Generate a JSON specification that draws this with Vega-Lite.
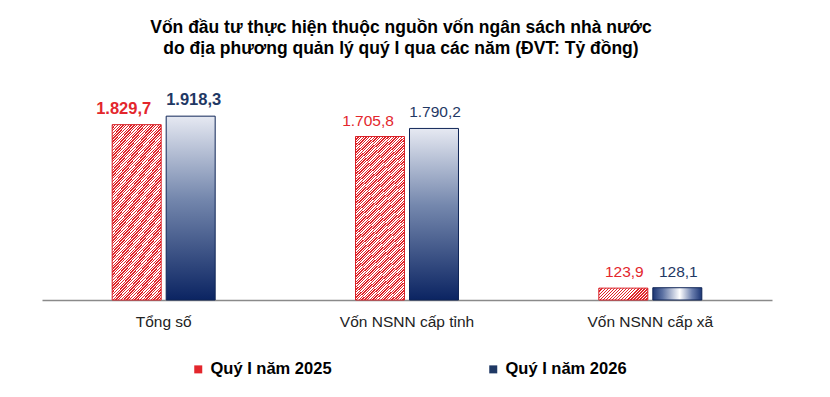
{
  "$schema": "https://vega.github.io/schema/vega-lite/v6.json",
  "width": 730,
  "height": 230,
  "autosize": "none",
  "padding": {"left": 42, "top": 70, "right": 58, "bottom": 97},
  "background": "white",
  "config": {
    "view": {"stroke": null},
    "font": "Liberation Sans",
    "locale": {"number": {"decimal": ",", "thousands": ".", "grouping": [3], "currency": ["", ""]}}
  },
  "title": {
    "text": "Vốn đầu tư thực hiện thuộc nguồn vốn ngân sách nhà nước",
    "subtitle": "do địa phương quản lý quý I qua các năm (ĐVT: Tỷ đồng)",
    "anchor": "middle",
    "frame": "group",
    "font": "Liberation Sans",
    "fontSize": 17.5,
    "fontWeight": "bold",
    "color": "#000000",
    "subtitleFont": "Liberation Sans",
    "subtitleFontSize": 17.5,
    "subtitleFontWeight": "bold",
    "subtitleColor": "#000000",
    "subtitlePadding": 3,
    "offset": 13,
    "dx": -6
  },
  "data": {
    "values": [
      {"cat": "Tổng số", "year": "Quý I năm 2025", "value": 1829.7},
      {"cat": "Tổng số", "year": "Quý I năm 2026", "value": 1918.3},
      {"cat": "Vốn NSNN cấp tỉnh", "year": "Quý I năm 2025", "value": 1705.8},
      {"cat": "Vốn NSNN cấp tỉnh", "year": "Quý I năm 2026", "value": 1790.2},
      {"cat": "Vốn NSNN cấp xã", "year": "Quý I năm 2025", "value": 123.9},
      {"cat": "Vốn NSNN cấp xã", "year": "Quý I năm 2026", "value": 128.1}
    ]
  },
  "encoding": {
    "x": {
      "field": "cat", "type": "nominal",
      "sort": ["Tổng số", "Vốn NSNN cấp tỉnh", "Vốn NSNN cấp xã"],
      "scale": {"paddingInner": 0.5767, "paddingOuter": 0.2884},
      "axis": {"title": null, "ticks": false, "labelAngle": 0, "domainColor": "#8a8a8a", "domainWidth": 1.5, "labelFont": "Liberation Sans", "labelFontSize": 15.5, "labelColor": "#222222", "labelPadding": 14}
    },
    "xOffset": {"field": "year", "type": "nominal", "sort": ["Quý I năm 2025", "Quý I năm 2026"], "scale": {"paddingInner": 0.0926, "paddingOuter": 0}},
    "y": {"field": "value", "type": "quantitative", "scale": {"domain": [0, 2400]}, "axis": null}
  },
  "layer": [
    {
      "transform": [{"filter": "datum.year == 'Quý I năm 2025' && datum.cat != 'Vốn NSNN cấp xã'"}],
      "mark": {"type": "bar", "stroke": "#d81f26", "strokeWidth": 1, "fill": {"gradient": "linear", "x1": 0, "y1": 0, "x2": 0.345, "y2": 1.19, "stops": [
{"offset":0,"color":"#e02329"},{"offset":0.00625,"color":"#e02329"},{"offset":0.00625,"color":"#fff"},{"offset":0.0125,"color":"#fff"},
{"offset":0.0125,"color":"#e02329"},{"offset":0.01875,"color":"#e02329"},{"offset":0.01875,"color":"#fff"},{"offset":0.025,"color":"#fff"},
{"offset":0.025,"color":"#e02329"},{"offset":0.03125,"color":"#e02329"},{"offset":0.03125,"color":"#fff"},{"offset":0.0375,"color":"#fff"},
{"offset":0.0375,"color":"#e02329"},{"offset":0.04375,"color":"#e02329"},{"offset":0.04375,"color":"#fff"},{"offset":0.05,"color":"#fff"},
{"offset":0.05,"color":"#e02329"},{"offset":0.05625,"color":"#e02329"},{"offset":0.05625,"color":"#fff"},{"offset":0.0625,"color":"#fff"},
{"offset":0.0625,"color":"#e02329"},{"offset":0.06875,"color":"#e02329"},{"offset":0.06875,"color":"#fff"},{"offset":0.075,"color":"#fff"},
{"offset":0.075,"color":"#e02329"},{"offset":0.08125,"color":"#e02329"},{"offset":0.08125,"color":"#fff"},{"offset":0.0875,"color":"#fff"},
{"offset":0.0875,"color":"#e02329"},{"offset":0.09375,"color":"#e02329"},{"offset":0.09375,"color":"#fff"},{"offset":0.1,"color":"#fff"},
{"offset":0.1,"color":"#e02329"},{"offset":0.10625,"color":"#e02329"},{"offset":0.10625,"color":"#fff"},{"offset":0.1125,"color":"#fff"},
{"offset":0.1125,"color":"#e02329"},{"offset":0.11875,"color":"#e02329"},{"offset":0.11875,"color":"#fff"},{"offset":0.125,"color":"#fff"},
{"offset":0.125,"color":"#e02329"},{"offset":0.13125,"color":"#e02329"},{"offset":0.13125,"color":"#fff"},{"offset":0.1375,"color":"#fff"},
{"offset":0.1375,"color":"#e02329"},{"offset":0.14375,"color":"#e02329"},{"offset":0.14375,"color":"#fff"},{"offset":0.15,"color":"#fff"},
{"offset":0.15,"color":"#e02329"},{"offset":0.15625,"color":"#e02329"},{"offset":0.15625,"color":"#fff"},{"offset":0.1625,"color":"#fff"},
{"offset":0.1625,"color":"#e02329"},{"offset":0.16875,"color":"#e02329"},{"offset":0.16875,"color":"#fff"},{"offset":0.175,"color":"#fff"},
{"offset":0.175,"color":"#e02329"},{"offset":0.18125,"color":"#e02329"},{"offset":0.18125,"color":"#fff"},{"offset":0.1875,"color":"#fff"},
{"offset":0.1875,"color":"#e02329"},{"offset":0.19375,"color":"#e02329"},{"offset":0.19375,"color":"#fff"},{"offset":0.2,"color":"#fff"},
{"offset":0.2,"color":"#e02329"},{"offset":0.20625,"color":"#e02329"},{"offset":0.20625,"color":"#fff"},{"offset":0.2125,"color":"#fff"},
{"offset":0.2125,"color":"#e02329"},{"offset":0.21875,"color":"#e02329"},{"offset":0.21875,"color":"#fff"},{"offset":0.225,"color":"#fff"},
{"offset":0.225,"color":"#e02329"},{"offset":0.23125,"color":"#e02329"},{"offset":0.23125,"color":"#fff"},{"offset":0.2375,"color":"#fff"},
{"offset":0.2375,"color":"#e02329"},{"offset":0.24375,"color":"#e02329"},{"offset":0.24375,"color":"#fff"},{"offset":0.25,"color":"#fff"},
{"offset":0.25,"color":"#e02329"},{"offset":0.25625,"color":"#e02329"},{"offset":0.25625,"color":"#fff"},{"offset":0.2625,"color":"#fff"},
{"offset":0.2625,"color":"#e02329"},{"offset":0.26875,"color":"#e02329"},{"offset":0.26875,"color":"#fff"},{"offset":0.275,"color":"#fff"},
{"offset":0.275,"color":"#e02329"},{"offset":0.28125,"color":"#e02329"},{"offset":0.28125,"color":"#fff"},{"offset":0.2875,"color":"#fff"},
{"offset":0.2875,"color":"#e02329"},{"offset":0.29375,"color":"#e02329"},{"offset":0.29375,"color":"#fff"},{"offset":0.3,"color":"#fff"},
{"offset":0.3,"color":"#e02329"},{"offset":0.30625,"color":"#e02329"},{"offset":0.30625,"color":"#fff"},{"offset":0.3125,"color":"#fff"},
{"offset":0.3125,"color":"#e02329"},{"offset":0.31875,"color":"#e02329"},{"offset":0.31875,"color":"#fff"},{"offset":0.325,"color":"#fff"},
{"offset":0.325,"color":"#e02329"},{"offset":0.33125,"color":"#e02329"},{"offset":0.33125,"color":"#fff"},{"offset":0.3375,"color":"#fff"},
{"offset":0.3375,"color":"#e02329"},{"offset":0.34375,"color":"#e02329"},{"offset":0.34375,"color":"#fff"},{"offset":0.35,"color":"#fff"},
{"offset":0.35,"color":"#e02329"},{"offset":0.35625,"color":"#e02329"},{"offset":0.35625,"color":"#fff"},{"offset":0.3625,"color":"#fff"},
{"offset":0.3625,"color":"#e02329"},{"offset":0.36875,"color":"#e02329"},{"offset":0.36875,"color":"#fff"},{"offset":0.375,"color":"#fff"},
{"offset":0.375,"color":"#e02329"},{"offset":0.38125,"color":"#e02329"},{"offset":0.38125,"color":"#fff"},{"offset":0.3875,"color":"#fff"},
{"offset":0.3875,"color":"#e02329"},{"offset":0.39375,"color":"#e02329"},{"offset":0.39375,"color":"#fff"},{"offset":0.4,"color":"#fff"},
{"offset":0.4,"color":"#e02329"},{"offset":0.40625,"color":"#e02329"},{"offset":0.40625,"color":"#fff"},{"offset":0.4125,"color":"#fff"},
{"offset":0.4125,"color":"#e02329"},{"offset":0.41875,"color":"#e02329"},{"offset":0.41875,"color":"#fff"},{"offset":0.425,"color":"#fff"},
{"offset":0.425,"color":"#e02329"},{"offset":0.43125,"color":"#e02329"},{"offset":0.43125,"color":"#fff"},{"offset":0.4375,"color":"#fff"},
{"offset":0.4375,"color":"#e02329"},{"offset":0.44375,"color":"#e02329"},{"offset":0.44375,"color":"#fff"},{"offset":0.45,"color":"#fff"},
{"offset":0.45,"color":"#e02329"},{"offset":0.45625,"color":"#e02329"},{"offset":0.45625,"color":"#fff"},{"offset":0.4625,"color":"#fff"},
{"offset":0.4625,"color":"#e02329"},{"offset":0.46875,"color":"#e02329"},{"offset":0.46875,"color":"#fff"},{"offset":0.475,"color":"#fff"},
{"offset":0.475,"color":"#e02329"},{"offset":0.48125,"color":"#e02329"},{"offset":0.48125,"color":"#fff"},{"offset":0.4875,"color":"#fff"},
{"offset":0.4875,"color":"#e02329"},{"offset":0.49375,"color":"#e02329"},{"offset":0.49375,"color":"#fff"},{"offset":0.5,"color":"#fff"},
{"offset":0.5,"color":"#e02329"},{"offset":0.50625,"color":"#e02329"},{"offset":0.50625,"color":"#fff"},{"offset":0.5125,"color":"#fff"},
{"offset":0.5125,"color":"#e02329"},{"offset":0.51875,"color":"#e02329"},{"offset":0.51875,"color":"#fff"},{"offset":0.525,"color":"#fff"},
{"offset":0.525,"color":"#e02329"},{"offset":0.53125,"color":"#e02329"},{"offset":0.53125,"color":"#fff"},{"offset":0.5375,"color":"#fff"},
{"offset":0.5375,"color":"#e02329"},{"offset":0.54375,"color":"#e02329"},{"offset":0.54375,"color":"#fff"},{"offset":0.55,"color":"#fff"},
{"offset":0.55,"color":"#e02329"},{"offset":0.55625,"color":"#e02329"},{"offset":0.55625,"color":"#fff"},{"offset":0.5625,"color":"#fff"},
{"offset":0.5625,"color":"#e02329"},{"offset":0.56875,"color":"#e02329"},{"offset":0.56875,"color":"#fff"},{"offset":0.575,"color":"#fff"},
{"offset":0.575,"color":"#e02329"},{"offset":0.58125,"color":"#e02329"},{"offset":0.58125,"color":"#fff"},{"offset":0.5875,"color":"#fff"},
{"offset":0.5875,"color":"#e02329"},{"offset":0.59375,"color":"#e02329"},{"offset":0.59375,"color":"#fff"},{"offset":0.6,"color":"#fff"},
{"offset":0.6,"color":"#e02329"},{"offset":0.60625,"color":"#e02329"},{"offset":0.60625,"color":"#fff"},{"offset":0.6125,"color":"#fff"},
{"offset":0.6125,"color":"#e02329"},{"offset":0.61875,"color":"#e02329"},{"offset":0.61875,"color":"#fff"},{"offset":0.625,"color":"#fff"},
{"offset":0.625,"color":"#e02329"},{"offset":0.63125,"color":"#e02329"},{"offset":0.63125,"color":"#fff"},{"offset":0.6375,"color":"#fff"},
{"offset":0.6375,"color":"#e02329"},{"offset":0.64375,"color":"#e02329"},{"offset":0.64375,"color":"#fff"},{"offset":0.65,"color":"#fff"},
{"offset":0.65,"color":"#e02329"},{"offset":0.65625,"color":"#e02329"},{"offset":0.65625,"color":"#fff"},{"offset":0.6625,"color":"#fff"},
{"offset":0.6625,"color":"#e02329"},{"offset":0.66875,"color":"#e02329"},{"offset":0.66875,"color":"#fff"},{"offset":0.675,"color":"#fff"},
{"offset":0.675,"color":"#e02329"},{"offset":0.68125,"color":"#e02329"},{"offset":0.68125,"color":"#fff"},{"offset":0.6875,"color":"#fff"},
{"offset":0.6875,"color":"#e02329"},{"offset":0.69375,"color":"#e02329"},{"offset":0.69375,"color":"#fff"},{"offset":0.7,"color":"#fff"},
{"offset":0.7,"color":"#e02329"},{"offset":0.70625,"color":"#e02329"},{"offset":0.70625,"color":"#fff"},{"offset":0.7125,"color":"#fff"},
{"offset":0.7125,"color":"#e02329"},{"offset":0.71875,"color":"#e02329"},{"offset":0.71875,"color":"#fff"},{"offset":0.725,"color":"#fff"},
{"offset":0.725,"color":"#e02329"},{"offset":0.73125,"color":"#e02329"},{"offset":0.73125,"color":"#fff"},{"offset":0.7375,"color":"#fff"},
{"offset":0.7375,"color":"#e02329"},{"offset":0.74375,"color":"#e02329"},{"offset":0.74375,"color":"#fff"},{"offset":0.75,"color":"#fff"},
{"offset":0.75,"color":"#e02329"},{"offset":0.75625,"color":"#e02329"},{"offset":0.75625,"color":"#fff"},{"offset":0.7625,"color":"#fff"},
{"offset":0.7625,"color":"#e02329"},{"offset":0.76875,"color":"#e02329"},{"offset":0.76875,"color":"#fff"},{"offset":0.775,"color":"#fff"},
{"offset":0.775,"color":"#e02329"},{"offset":0.78125,"color":"#e02329"},{"offset":0.78125,"color":"#fff"},{"offset":0.7875,"color":"#fff"},
{"offset":0.7875,"color":"#e02329"},{"offset":0.79375,"color":"#e02329"},{"offset":0.79375,"color":"#fff"},{"offset":0.8,"color":"#fff"},
{"offset":0.8,"color":"#e02329"},{"offset":0.80625,"color":"#e02329"},{"offset":0.80625,"color":"#fff"},{"offset":0.8125,"color":"#fff"},
{"offset":0.8125,"color":"#e02329"},{"offset":0.81875,"color":"#e02329"},{"offset":0.81875,"color":"#fff"},{"offset":0.825,"color":"#fff"},
{"offset":0.825,"color":"#e02329"},{"offset":0.83125,"color":"#e02329"},{"offset":0.83125,"color":"#fff"},{"offset":0.8375,"color":"#fff"},
{"offset":0.8375,"color":"#e02329"},{"offset":0.84375,"color":"#e02329"},{"offset":0.84375,"color":"#fff"},{"offset":0.85,"color":"#fff"},
{"offset":0.85,"color":"#e02329"},{"offset":0.85625,"color":"#e02329"},{"offset":0.85625,"color":"#fff"},{"offset":0.8625,"color":"#fff"},
{"offset":0.8625,"color":"#e02329"},{"offset":0.86875,"color":"#e02329"},{"offset":0.86875,"color":"#fff"},{"offset":0.875,"color":"#fff"},
{"offset":0.875,"color":"#e02329"},{"offset":0.88125,"color":"#e02329"},{"offset":0.88125,"color":"#fff"},{"offset":0.8875,"color":"#fff"},
{"offset":0.8875,"color":"#e02329"},{"offset":0.89375,"color":"#e02329"},{"offset":0.89375,"color":"#fff"},{"offset":0.9,"color":"#fff"},
{"offset":0.9,"color":"#e02329"},{"offset":0.90625,"color":"#e02329"},{"offset":0.90625,"color":"#fff"},{"offset":0.9125,"color":"#fff"},
{"offset":0.9125,"color":"#e02329"},{"offset":0.91875,"color":"#e02329"},{"offset":0.91875,"color":"#fff"},{"offset":0.925,"color":"#fff"},
{"offset":0.925,"color":"#e02329"},{"offset":0.93125,"color":"#e02329"},{"offset":0.93125,"color":"#fff"},{"offset":0.9375,"color":"#fff"},
{"offset":0.9375,"color":"#e02329"},{"offset":0.94375,"color":"#e02329"},{"offset":0.94375,"color":"#fff"},{"offset":0.95,"color":"#fff"},
{"offset":0.95,"color":"#e02329"},{"offset":0.95625,"color":"#e02329"},{"offset":0.95625,"color":"#fff"},{"offset":0.9625,"color":"#fff"},
{"offset":0.9625,"color":"#e02329"},{"offset":0.96875,"color":"#e02329"},{"offset":0.96875,"color":"#fff"},{"offset":0.975,"color":"#fff"},
{"offset":0.975,"color":"#e02329"},{"offset":0.98125,"color":"#e02329"},{"offset":0.98125,"color":"#fff"},{"offset":0.9875,"color":"#fff"},
{"offset":0.9875,"color":"#e02329"},{"offset":0.99375,"color":"#e02329"},{"offset":0.99375,"color":"#fff"},{"offset":1,"color":"#fff"}
      ]}}
    },
    {
      "transform": [{"filter": "datum.year == 'Quý I năm 2025' && datum.cat == 'Vốn NSNN cấp xã'"}],
      "mark": {"type": "bar", "stroke": "#d81f26", "strokeWidth": 1, "fill": {"gradient": "linear", "x1": 0, "y1": 0, "x2": 1.1734, "y2": 0.2843, "stops": [
{"offset":0,"color":"#e02329"},{"offset":0.025,"color":"#e02329"},{"offset":0.025,"color":"#fff"},{"offset":0.05,"color":"#fff"},
{"offset":0.05,"color":"#e02329"},{"offset":0.075,"color":"#e02329"},{"offset":0.075,"color":"#fff"},{"offset":0.1,"color":"#fff"},
{"offset":0.1,"color":"#e02329"},{"offset":0.125,"color":"#e02329"},{"offset":0.125,"color":"#fff"},{"offset":0.15,"color":"#fff"},
{"offset":0.15,"color":"#e02329"},{"offset":0.175,"color":"#e02329"},{"offset":0.175,"color":"#fff"},{"offset":0.2,"color":"#fff"},
{"offset":0.2,"color":"#e02329"},{"offset":0.225,"color":"#e02329"},{"offset":0.225,"color":"#fff"},{"offset":0.25,"color":"#fff"},
{"offset":0.25,"color":"#e02329"},{"offset":0.275,"color":"#e02329"},{"offset":0.275,"color":"#fff"},{"offset":0.3,"color":"#fff"},
{"offset":0.3,"color":"#e02329"},{"offset":0.325,"color":"#e02329"},{"offset":0.325,"color":"#fff"},{"offset":0.35,"color":"#fff"},
{"offset":0.35,"color":"#e02329"},{"offset":0.375,"color":"#e02329"},{"offset":0.375,"color":"#fff"},{"offset":0.4,"color":"#fff"},
{"offset":0.4,"color":"#e02329"},{"offset":0.425,"color":"#e02329"},{"offset":0.425,"color":"#fff"},{"offset":0.45,"color":"#fff"},
{"offset":0.45,"color":"#e02329"},{"offset":0.475,"color":"#e02329"},{"offset":0.475,"color":"#fff"},{"offset":0.5,"color":"#fff"},
{"offset":0.5,"color":"#e02329"},{"offset":0.525,"color":"#e02329"},{"offset":0.525,"color":"#fff"},{"offset":0.55,"color":"#fff"},
{"offset":0.55,"color":"#e02329"},{"offset":0.575,"color":"#e02329"},{"offset":0.575,"color":"#fff"},{"offset":0.6,"color":"#fff"},
{"offset":0.6,"color":"#e02329"},{"offset":0.625,"color":"#e02329"},{"offset":0.625,"color":"#fff"},{"offset":0.65,"color":"#fff"},
{"offset":0.65,"color":"#e02329"},{"offset":0.675,"color":"#e02329"},{"offset":0.675,"color":"#fff"},{"offset":0.7,"color":"#fff"},
{"offset":0.7,"color":"#e02329"},{"offset":0.725,"color":"#e02329"},{"offset":0.725,"color":"#fff"},{"offset":0.75,"color":"#fff"},
{"offset":0.75,"color":"#e02329"},{"offset":0.775,"color":"#e02329"},{"offset":0.775,"color":"#fff"},{"offset":0.8,"color":"#fff"},
{"offset":0.8,"color":"#e02329"},{"offset":0.825,"color":"#e02329"},{"offset":0.825,"color":"#fff"},{"offset":0.85,"color":"#fff"},
{"offset":0.85,"color":"#e02329"},{"offset":0.875,"color":"#e02329"},{"offset":0.875,"color":"#fff"},{"offset":0.9,"color":"#fff"},
{"offset":0.9,"color":"#e02329"},{"offset":0.925,"color":"#e02329"},{"offset":0.925,"color":"#fff"},{"offset":0.95,"color":"#fff"},
{"offset":0.95,"color":"#e02329"},{"offset":0.975,"color":"#e02329"},{"offset":0.975,"color":"#fff"},{"offset":1,"color":"#fff"}
      ]}}
    },
    {
      "transform": [{"filter": "datum.year == 'Quý I năm 2026' && datum.cat != 'Vốn NSNN cấp xã'"}],
      "mark": {"type": "bar", "stroke": "#0f2557", "strokeWidth": 1, "fill": {"gradient": "linear", "x1": 0, "y1": 0, "x2": 0, "y2": 1, "stops": [
        {"offset": 0, "color": "#e6e9f2"},
        {"offset": 0.45, "color": "#7487ad"},
        {"offset": 1, "color": "#0b2462"}
      ]}}
    },
    {
      "transform": [{"filter": "datum.year == 'Quý I năm 2026' && datum.cat == 'Vốn NSNN cấp xã'"}],
      "mark": {"type": "bar", "stroke": "#0f2557", "strokeWidth": 1, "fill": {"gradient": "linear", "x1": 0, "y1": 0, "x2": 1, "y2": 0, "stops": [
        {"offset": 0, "color": "#1b3574"},
        {"offset": 0.2, "color": "#5d72a3"},
        {"offset": 0.55, "color": "#ffffff"},
        {"offset": 0.8, "color": "#6b7fae"},
        {"offset": 1, "color": "#1b3574"}
      ]}}
    },
    {
      "transform": [{"filter": "datum.cat == 'Tổng số' && datum.year == 'Quý I năm 2025'"}],
      "mark": {"type": "text", "baseline": "bottom", "dy": -8, "dx": -13, "font": "Liberation Sans", "fontSize": 16.5, "fontWeight": "bold"},
      "encoding": {
        "text": {"field": "value", "type": "quantitative", "format": ",.1f"},
        "color": {
          "field": "year", "type": "nominal",
          "scale": {"domain": ["Quý I năm 2025", "Quý I năm 2026"], "range": ["#e3262c", "#1f3864"]},
          "legend": {
            "title": null, "orient": "none", "legendX": 148, "legendY": 291, "direction": "horizontal",
            "symbolType": "square", "symbolSize": 64, "symbolStrokeWidth": 1,
            "labelFont": "Liberation Sans", "labelFontSize": 16.5, "labelFontWeight": "bold", "labelColor": "#000000",
            "labelOffset": 4, "columnPadding": 153, "labelLimit": 300
          }
        }
      }
    },
    {
      "transform": [{"filter": "datum.cat == 'Tổng số' && datum.year == 'Quý I năm 2026'"}],
      "mark": {"type": "text", "baseline": "bottom", "dy": -8, "dx": 3, "font": "Liberation Sans", "fontSize": 16.5, "fontWeight": "bold"},
      "encoding": {
        "text": {"field": "value", "type": "quantitative", "format": ",.1f"},
        "color": {"field": "year", "type": "nominal"}
      }
    },
    {
      "transform": [{"filter": "datum.cat == 'Vốn NSNN cấp tỉnh' && datum.year == 'Quý I năm 2025'"}],
      "mark": {"type": "text", "baseline": "bottom", "dy": -8, "dx": -12, "font": "Liberation Sans", "fontSize": 15.5},
      "encoding": {
        "text": {"field": "value", "type": "quantitative", "format": ",.1f"},
        "color": {"field": "year", "type": "nominal"}
      }
    },
    {
      "transform": [{"filter": "datum.cat == 'Vốn NSNN cấp xã' || (datum.cat == 'Vốn NSNN cấp tỉnh' && datum.year == 'Quý I năm 2026')"}],
      "mark": {"type": "text", "baseline": "bottom", "dy": -8, "dx": 1, "font": "Liberation Sans", "fontSize": 15.5},
      "encoding": {
        "text": {"field": "value", "type": "quantitative", "format": ",.1f"},
        "color": {"field": "year", "type": "nominal"}
      }
    }
  ]
}
